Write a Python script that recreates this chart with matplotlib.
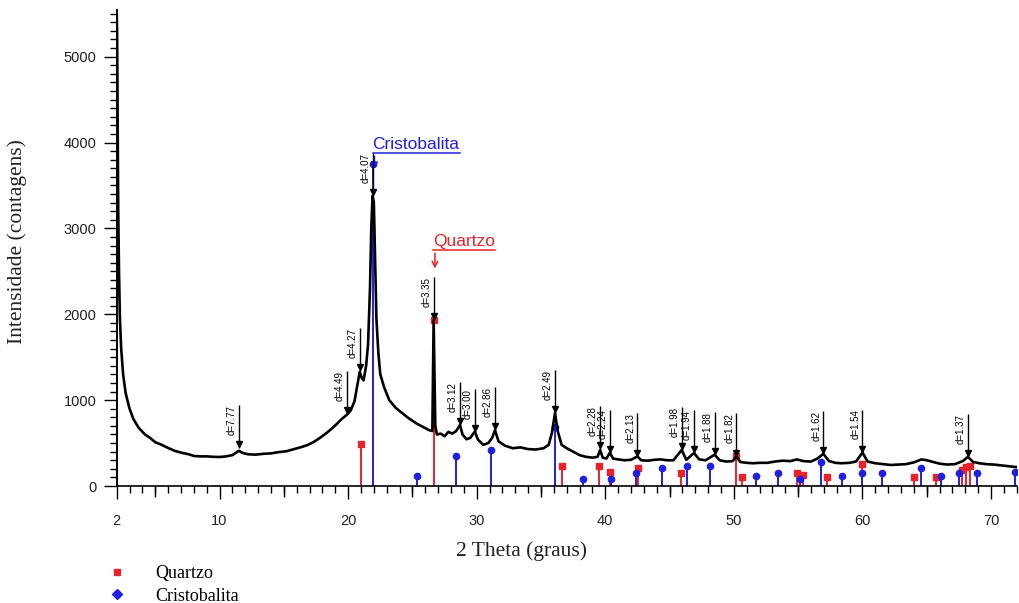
import numpy as np
import matplotlib.pyplot as plt
from matplotlib.lines import Line2D

# measured diffractogram (2 theta in degrees, counts)
two_theta = [2.00, 2.03, 2.08, 2.12, 2.18, 2.25, 2.35, 2.5, 2.7, 3.0, 3.3, 3.7, 4.2, 4.6,
             5.0, 5.5, 5.9, 6.5, 7.1, 7.6, 8.0, 8.5, 9.0, 9.5, 10.0, 10.5, 11.0, 11.5,
             11.8, 12.2, 12.8, 13.4, 14.0, 14.6, 15.2, 15.8, 16.4, 16.8, 17.3, 17.8,
             18.3, 18.7, 19.1, 19.5, 19.9, 20.2, 20.5, 20.75, 20.9, 21.05, 21.2, 21.4,
             21.55, 21.7, 21.8, 21.9, 22.0, 22.1, 22.2, 22.35, 22.5, 22.8, 23.2, 23.7,
             24.2, 24.7, 25.3, 25.8, 26.3, 26.55, 26.65, 26.78, 26.9, 27.2, 27.5, 27.8,
             28.1, 28.4, 28.7, 28.9, 29.2, 29.5, 29.85, 30.1, 30.5, 30.9, 31.2, 31.42,
             31.7, 32.2, 32.8, 33.4, 34.0, 34.6, 35.2, 35.6, 35.85, 36.09, 36.3, 36.6,
             37.0, 37.5, 38.0, 38.5, 39.0, 39.4, 39.6, 39.8, 40.1, 40.36, 40.6, 41.0,
             41.5, 42.0, 42.5, 42.8, 43.3, 43.8, 44.3, 44.8, 45.3, 45.94, 46.3, 46.9,
             47.3, 47.8, 48.5, 48.9, 49.4, 49.9, 50.2, 50.5, 51.0, 51.5, 52.0, 52.6,
             53.2, 53.8, 54.4, 54.9, 55.4, 56.0, 56.5, 56.96, 57.4, 57.9, 58.4, 59.0,
             59.5, 60.0, 60.4, 61.0, 61.6, 62.2, 62.8, 63.4, 64.0, 64.6, 65.0, 65.5,
             66.0, 66.6, 67.2, 67.8, 68.2, 68.6, 69.1, 69.6, 70.2, 70.8, 71.4, 72.0]
counts = [5530, 5300, 4200, 3200, 2500, 1950, 1600, 1300, 1080, 900, 780, 680, 600, 560,
          510, 480, 450, 410, 385, 370, 350, 345, 345, 340, 338, 345, 360, 410,
          385, 370, 365, 375, 380, 395, 405, 430, 455, 475, 510, 560,
          615, 665, 720, 780, 830, 880, 990, 1200, 1330, 1260, 1230, 1400,
          1650, 2300, 3000, 3380, 3300, 2600, 1950, 1550, 1300, 1150, 1000, 910,
          850, 790, 730, 690, 650, 640, 1930, 700, 600, 610, 580, 630,
          610, 640, 710, 600, 545, 560, 635, 540, 480, 500, 560, 650,
          520, 470, 440, 450, 430, 425, 440, 480, 620, 850, 640, 480,
          440, 400, 360, 340, 330, 340, 420, 330, 320, 390, 320, 310,
          300, 305, 345, 300, 295, 305, 310, 300, 300, 420, 305, 385,
          310, 300, 365, 300, 285, 290, 345, 280, 270, 265, 270, 270,
          285, 295, 290, 310, 290, 285, 320, 375, 290, 270, 265, 270,
          285, 390, 285, 265, 255, 245, 250, 255, 275, 310, 300, 280,
          260, 250, 255, 290, 340, 280, 265, 255, 250, 240, 230, 220]

# identified peaks (d-spacing labels)
d_labels = ['d=7.77', 'd=4.49', 'd=4.27', 'd=4.07', 'd=3.35', 'd=3.12', 'd=3.00', 'd=2.86',
            'd=2.49', 'd=2.28', 'd=2.24', 'd=2.13', 'd=1.98', 'd=1.94', 'd=1.88', 'd=1.82',
            'd=1.62', 'd=1.54', 'd=1.37']
d_theta = [11.5, 19.9, 20.9, 21.9, 26.65, 28.7, 29.85, 31.42, 36.09, 39.6, 40.36, 42.5,
           45.94, 46.9, 48.5, 50.2, 56.96, 60.0, 68.2]
d_counts = [440, 840, 1340, 3380, 1930, 710, 630, 650, 850, 430, 390, 345,
            420, 385, 365, 345, 375, 390, 340]

# reference patterns
qz_theta = [21.0, 26.7, 36.6, 39.55, 40.36, 42.57, 45.92, 50.15, 50.62, 54.92, 55.38,
            57.22, 59.97, 64.03, 65.74, 67.71, 68.02, 68.33]
qz_counts = [490, 1930, 233, 233, 163, 209, 155, 345, 108, 155, 128,
             105, 256, 105, 105, 186, 221, 233]
cr_theta = [21.9, 25.36, 28.36, 31.08, 36.06, 38.28, 40.45, 42.41, 44.44, 46.36, 48.18,
            51.72, 53.44, 55.15, 56.76, 58.38, 59.97, 61.5, 64.55, 66.08, 67.52, 68.92, 71.87]
cr_counts = [3750, 120, 345, 425, 686, 81, 81, 155, 209, 233, 233,
             116, 155, 81, 283, 116, 155, 155, 209, 116, 155, 155, 166]

red = '#e8222a'
blue = '#1f1fe0'

fig = plt.figure(figsize=(10.2, 6.03), dpi=100)
ax = fig.add_axes([0.1144, 0.194, 0.8824, 0.789])

# stick patterns
ax.vlines(qz_theta, 0, qz_counts, color=red, lw=1.4, zorder=2)
ax.plot(qz_theta, qz_counts, 's', color=red, ms=4.5, zorder=2)
ax.vlines(cr_theta, 0, cr_counts, color=blue, lw=1.4, zorder=2)
ax.plot(cr_theta, cr_counts, 'o', color=blue, ms=4.5, zorder=2)

# pattern
ax.plot(two_theta, counts, color='black', lw=1.9, zorder=3)

# peak markers
for lab, t, c in zip(d_labels, d_theta, d_counts):
    top = c + 500
    ax.vlines(t, c, top, color='black', lw=1.0, zorder=4)
    ax.plot(t, c + 45, 'v', color='black', ms=5, zorder=4)
    ax.annotate(lab, (t, top), xytext=(-1.5, 0), textcoords='offset points',
                rotation=90, ha='right', va='top', fontsize=7, family='Liberation Sans')

ax.set_xlim(2, 72)
ax.set_ylim(0, 5540)
ax.spines['top'].set_visible(False)
ax.spines['right'].set_visible(False)
ax.spines['left'].set_linewidth(1.4)
ax.spines['bottom'].set_linewidth(1.2)

ax.set_xticks([2, 10, 20, 30, 40, 50, 60, 70])
ax.set_xticks(np.arange(3, 73, 1), minor=True)
ax.set_yticks(np.arange(0, 5001, 1000))
ax.set_yticks(np.arange(0, 5501, 100), minor=True)
ax.tick_params(axis='x', which='major', length=9.5, width=1, pad=11, labelsize=10.5,
               labelcolor='#222222')
ax.tick_params(axis='x', which='minor', length=5, width=1)
ax.tick_params(axis='y', which='major', length=9.5, width=1, pad=5, labelsize=10.5,
               labelcolor='#222222')
ax.tick_params(axis='y', which='minor', length=5, width=1)
for lab in ax.get_xticklabels() + ax.get_yticklabels():
    lab.set_family('Liberation Sans')

sec = ax.secondary_xaxis('bottom')
sec.set_xticks(np.arange(5, 70, 10))
sec.tick_params(length=8, width=1, labelbottom=False)
sec.spines['bottom'].set_visible(False)

ax.set_xlabel('2 Theta (graus)', family='Liberation Serif', fontsize=15.5, color='#222222')
ax.set_ylabel('Intensidade (contagens)', family='Liberation Serif', fontsize=15.5,
              color='#222222')
ax.xaxis.set_label_coords(0.45, -0.117)
ax.yaxis.set_label_coords(-0.1, 0.513)

# phase call-outs
fig.canvas.draw()
rend = fig.canvas.get_renderer()
for name, x0, ybase, yline, ytip, col in [('Cristobalita', 21.9, 3930, 3872, 3660, blue),
                                          ('Quartzo', 26.6, 2790, 2744, 2500, red)]:
    t = ax.text(x0, ybase, name, color=col, fontsize=12.5, family='Liberation Sans',
                ha='left', va='baseline')
    bb = t.get_window_extent(rend).transformed(ax.transData.inverted())
    ax.plot([bb.x0, bb.x1], [yline, yline], color=col, lw=1.1)
    ax.annotate('', xy=(x0 + 0.15, ytip), xytext=(x0 + 0.15, yline),
                arrowprops=dict(arrowstyle='->', color=col, lw=1.1))

handles = [Line2D([], [], marker='s', color=red, ls='none', ms=4.5),
           Line2D([], [], marker='D', color=blue, ls='none', ms=5)]
fig.legend(handles, ['Quartzo', 'Cristobalita'], loc='upper left',
           bbox_to_anchor=(0.106, 0.063), frameon=False, borderpad=0, borderaxespad=0,
           handlelength=1.0, handletextpad=1.6, labelspacing=0.32,
           prop={'family': 'Liberation Serif', 'size': 13})

fig.savefig('out.png', dpi=100)
